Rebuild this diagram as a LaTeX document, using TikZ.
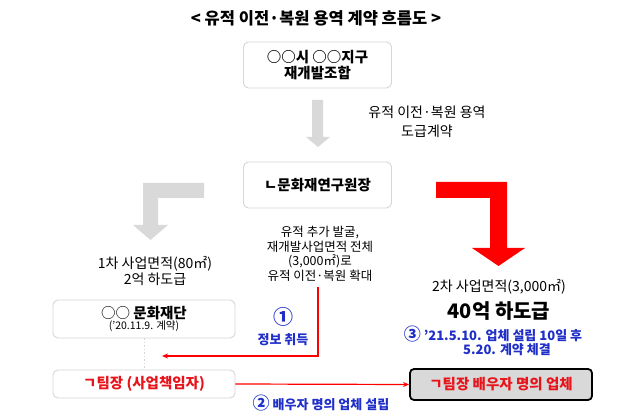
\documentclass[tikz,border=0pt]{standalone}
\usepackage{fontspec}
\setmainfont{Noto Sans CJK KR}
\usetikzlibrary{arrows.meta}
\definecolor{arrowgray}{HTML}{D9D9D9}
\definecolor{boxline}{HTML}{D6D6D6}
\definecolor{infoblue}{HTML}{1F2FC8}
\definecolor{alertred}{HTML}{E8141B}
\newcommand\setfs[2]{\fontsize{#1}{#2}\selectfont}
\newcommand\circnum[1]{{\fontsize{17}{16}\selectfont #1}}

\begin{document}
\begin{tikzpicture}[x=1pt, y=-1pt,
        box/.style = {draw=boxline, line width=0.9pt, rounded corners=5pt,
                fill=white, align=center, inner sep=0pt
            },
        note/.style = {align=center, inner sep=0pt},
        infonote/.style = {note, text=infoblue, font=\setfs{13}{16}\bfseries},
        redlink/.style = {draw=red, line width=1.2pt, -{Stealth[length=6pt, width=5pt]}}
    ]
    \fill[white] (0,0) rectangle (640,419);
    \useasboundingbox (0,0) rectangle (640,419);

    \node[note, font=\setfs{16.5}{18}\bfseries] (title) at (316,18)
        {< 유적 이전·복원 용역 계약 흐름도 >};

    \node[box, minimum width=148pt, minimum height=46pt,
        font=\setfs{14.5}{16}\bfseries] (union) at (317.5,65)
        {○○시 ○○지구\\재개발조합};
    \node[box, minimum width=148pt, minimum height=46pt,
        font=\setfs{14.5}{16}\bfseries] (director) at (317.5,185)
        {ㄴ문화재연구원장};

    % block arrows
    \fill[arrowgray] (312,100) -- (323,100) -- (323,137) -- (330,137)
        -- (318,147) -- (306,137) -- (312,137) -- cycle;
    \fill[arrowgray] (204,183) -- (143,183) -- (143,225) -- (133,225)
        -- (150.5,240) -- (168,225) -- (158,225) -- (158,198) -- (204,198) -- cycle;
    \fill[red] (436,182) -- (507,182) -- (507,248) -- (525,248)
        -- (498.5,266) -- (472,248) -- (490,248) -- (490,198) -- (436,198) -- cycle;

    \node[note, font=\setfs{14}{19}] (contract) at (427,122)
        {유적 이전·복원 용역\\도급계약};
    \node[note, font=\setfs{12.5}{14.5}] (expand) at (320,254)
        {유적 추가 발굴,\\재개발사업면적 전체\\(3,000㎡)로\\유적 이전·복원 확대};

    \node[note, font=\setfs{14}{16}] (first) at (155,271)
        {1차 사업면적(80㎡)\\2억 하도급};
    \node[note, font=\setfs{14}{15}] (second) at (499,287)
        {2차 사업면적(3,000㎡)};
    \node[note, font=\setfs{20}{22}\bfseries] (amount) at (499,311)
        {40억 하도급};

    \node[box, minimum width=182pt, minimum height=38pt] (foundation) at (144,319)
        {{\setfs{14.5}{15}○○ \bfseries 문화재단}\\[-1pt]{\setfs{10.5}{11}('20.11.9. 계약)}};
    \node[box, minimum width=182pt, minimum height=28pt, text=alertred,
        font=\setfs{14.5}{15}\bfseries] (leader) at (144,384)
        {ㄱ팀장 (사업책임자)};
    \node[draw=black, line width=1.8pt, rounded corners=4pt, fill=arrowgray,
        minimum width=182pt, minimum height=31pt, inner sep=0pt, text=alertred,
        font=\setfs{14.5}{15}\bfseries] (company) at (501,384.5)
        {ㄱ팀장 배우자 명의 업체};

    \draw[boxline, line width=1pt, dash pattern=on 1.5pt off 2pt]
        (foundation.south) -- (leader.north);

    % connectors
    \coordinate (infotop) at (318,287);
    \coordinate (infoend) at (162,356);
    \draw[redlink] (infotop) |- (infoend);
    \draw[redlink] (leader.east) -- (company.west);

    \node[note, text=infoblue, font=\setfs{20}{20}\bfseries] (stepone) at (283,317) {①};
    \node[infonote] (getinfo) at (283,340) {정보 취득};
    \node[infonote] (steptwo) at (321,403) {\circnum{②} 배우자 명의 업체 설립};
    \node[infonote] (stepthree) at (493,334) {\circnum{③} '21.5.10. 업체 설립 10일 후};
    \node[infonote] (signed) at (507,350) {5.20. 계약 체결};
\end{tikzpicture}
\end{document}
